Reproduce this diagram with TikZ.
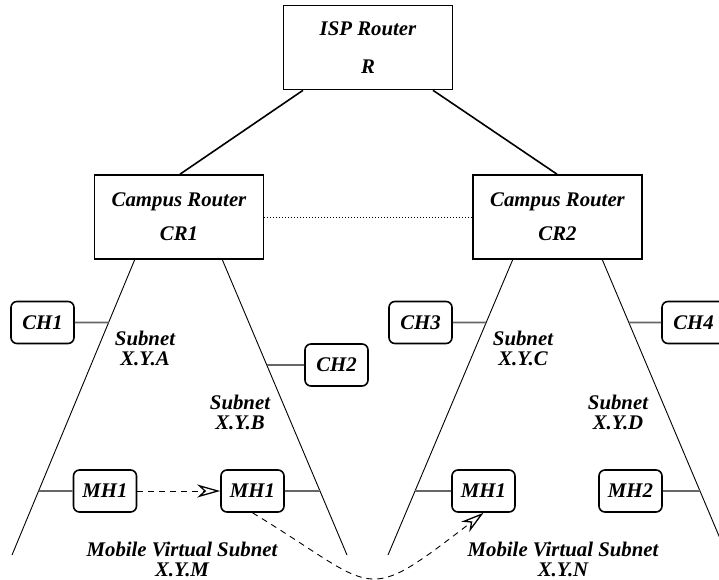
\documentclass[tikz,border=0pt]{standalone}
\usepackage{fontspec}
\setmainfont{Liberation Serif}
\usetikzlibrary{arrows.meta}

\begin{document}
\begin{tikzpicture}[x=1pt, y=-1pt,
  router/.style={draw, line width=1.6pt, minimum width=169pt, minimum height=84pt,
                 align=center, font=\fontsize{20.8}{24}\selectfont\bfseries\itshape},
  host/.style={draw, line width=1.6pt, rounded corners=6pt, minimum width=63pt,
               minimum height=42pt, inner sep=2pt, font=\fontsize{20.8}{24}\selectfont\bfseries\itshape},
  uplink/.style={line width=1.6pt},
  subnet/.style={line width=0.9pt},
  tap/.style={line width=1.8pt, color=black!60},
  move/.style={line width=0.9pt, dash pattern=on 6pt off 5pt,
               -{Stealth[open, length=23pt, width=13pt, inset=7pt, line width=1.3pt]}},
  lbl/.style={align=center, font=\fontsize{20.8}{20}\selectfont\bfseries\itshape},
]
\useasboundingbox (0,0) rectangle (719,580);

% --- Routers ---
\node[router] (isp) at (368,47.5) {\rule{0pt}{14pt}ISP Router\\[14pt]R};
\node[router] (cr1) at (179,217) {\rule{0pt}{13pt}Campus Router\\[10pt]CR1};
\node[router] (cr2) at (557.5,217) {\rule{0pt}{13pt}Campus Router\\[10pt]CR2};

\draw[uplink] ([xshift=-65pt]isp.south) -- ([xshift=1pt]cr1.north);
\draw[uplink] ([xshift=65pt]isp.south) -- ([xshift=-0.5pt]cr2.north);
\draw[line width=0.9pt, dash pattern=on 1pt off 2pt] (cr1.east) -- (cr2.west);

% --- Subnet lines ---
\coordinate (sa1) at (135,259); \coordinate (sa2) at (12,555);
\coordinate (sb1) at (222,259); \coordinate (sb2) at (347,555);
\coordinate (sc1) at (513,259); \coordinate (sc2) at (388,555);
\coordinate (sd1) at (602,259); \coordinate (sd2) at (727,555);
\foreach \s in {sa,sb,sc,sd}
  \draw[subnet] (\s1) -- (\s2);

% --- Hosts ---
\node[host] (ch1) at (42.5,322.5) {CH1};
\node[host] (ch2) at (336.5,365)  {CH2};
\node[host] (ch3) at (420.5,322.5) {CH3};
\node[host] (ch4) at (693.5,322.5) {CH4};
\node[host] (mha) at (105,491)   {MH1};
\node[host] (mhb) at (252.5,491) {MH1};
\node[host] (mhc) at (483.5,491) {MH1};
\node[host] (mhd) at (630.5,491) {MH2};

\draw[tap] (ch1.east) -- (intersection of ch1.east--ch1.west and sa1--sa2);
\draw[tap] (ch2.west) -- (intersection of ch2.east--ch2.west and sb1--sb2);
\draw[tap] (ch3.east) -- (intersection of ch3.east--ch3.west and sc1--sc2);
\draw[tap] (ch4.west) -- (intersection of ch4.east--ch4.west and sd1--sd2);
\draw[tap] (mha.west) -- (intersection of mha.east--mha.west and sa1--sa2);
\draw[tap] (mhb.east) -- (intersection of mhb.east--mhb.west and sb1--sb2);
\draw[tap] (mhc.west) -- (intersection of mhc.east--mhc.west and sc1--sc2);
\draw[tap] (mhd.east) -- (intersection of mhd.east--mhd.west and sd1--sd2);

% --- Movement of MH1 ---
\draw[move] (mha) -- (mhb);
\draw[move] (mhb.south) .. controls (380,590) and (360,608) .. (mhc.south);

% --- Labels ---
\node[lbl] (la) at (145,348) {Subnet\\X.Y.A};
\node[lbl] (lb) at (240,412) {Subnet\\X.Y.B};
\node[lbl] (lc) at (523,348) {Subnet\\X.Y.C};
\node[lbl] (ld) at (618,412) {Subnet\\X.Y.D};
\node[lbl] (lm) at (182,559) {Mobile Virtual Subnet\\X.Y.M};
\node[lbl] (ln) at (563,559) {Mobile Virtual Subnet\\X.Y.N};
\end{tikzpicture}
\end{document}
